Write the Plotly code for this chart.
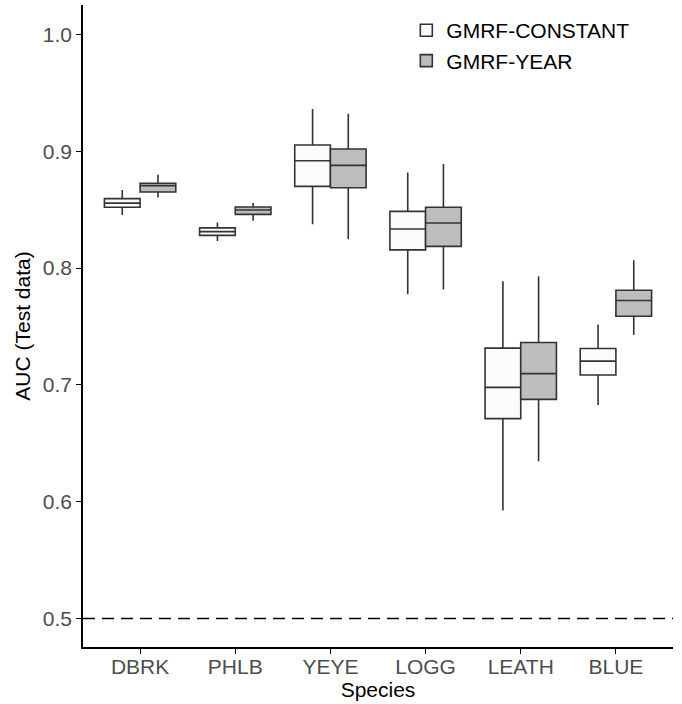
import plotly.graph_objects as go

# Species on the x axis
species = ["DBRK", "PHLB", "YEYE", "LOGG", "LEATH", "BLUE"]

# Box statistics of test-data AUC, GMRF-CONSTANT model
const_lower = [0.8455, 0.8232, 0.8374, 0.7776, 0.5925, 0.6827]
const_q1 = [0.8520, 0.8280, 0.8699, 0.8156, 0.6711, 0.7084]
const_median = [0.8556, 0.8312, 0.8919, 0.8335, 0.6979, 0.7203]
const_q3 = [0.8594, 0.8344, 0.9053, 0.8485, 0.7315, 0.7312]
const_upper = [0.8668, 0.8389, 0.9361, 0.8819, 0.7887, 0.7517]

# Box statistics of test-data AUC, GMRF-YEAR model
year_lower = [0.8603, 0.8406, 0.8246, 0.7816, 0.6346, 0.7426]
year_q1 = [0.8651, 0.8460, 0.8688, 0.8186, 0.6876, 0.7588]
year_median = [0.8705, 0.8497, 0.8879, 0.8386, 0.7096, 0.7722]
year_q3 = [0.8725, 0.8523, 0.9019, 0.8520, 0.7363, 0.7810]
year_upper = [0.8799, 0.8557, 0.9320, 0.8891, 0.7930, 0.8067]

y_ticks = [0.5, 0.6, 0.7, 0.8, 0.9, 1.0]
reference_auc = 0.5

LINE = "#333333"
FONT = "Liberation Sans, Arial, sans-serif"

fig = go.Figure()
fig.add_trace(go.Box(
    name="GMRF-CONSTANT", x=species,
    q1=const_q1, median=const_median, q3=const_q3,
    lowerfence=const_lower, upperfence=const_upper,
    fillcolor="#fbfbfb", line=dict(color=LINE, width=1.6),
    whiskerwidth=0, boxpoints=False,
))
fig.add_trace(go.Box(
    name="GMRF-YEAR", x=species,
    q1=year_q1, median=year_median, q3=year_q3,
    lowerfence=year_lower, upperfence=year_upper,
    fillcolor="#bdbdbd", line=dict(color=LINE, width=1.6),
    whiskerwidth=0, boxpoints=False,
))

# dashed reference line at AUC = 0.5
fig.add_shape(type="line", xref="paper", x0=0, x1=1, yref="y",
              y0=reference_auc, y1=reference_auc,
              line=dict(color="black", width=1.6, dash="12px,7px"))

fig.update_layout(
    width=682, height=704,
    margin=dict(l=83, r=9, t=5, b=57),
    paper_bgcolor="white", plot_bgcolor="white",
    boxmode="group", boxgap=0.25, boxgroupgap=0,
    font=dict(family=FONT, color="black"),
    showlegend=True,
    legend=dict(x=0.548, y=0.992, xanchor="left", yanchor="top",
                bgcolor="rgba(0,0,0,0)", font=dict(size=21, color="black"),
                itemwidth=30, tracegroupgap=0),
    xaxis=dict(
        type="category", range=[-0.6, 5.6],
        showline=True, linecolor="black", linewidth=1.5,
        ticks="outside", ticklen=5, tickcolor="black", tickwidth=1,
        tickfont=dict(size=21, color="#4d4d4d"), ticklabelstandoff=-5,
        showgrid=False, zeroline=False,
        title=dict(text="Species", font=dict(size=21, color="black"), standoff=2),
    ),
    yaxis=dict(
        range=[0.4756, 1.0252],
        tickvals=y_ticks, ticktext=[f"{v:.1f}" for v in y_ticks],
        showline=True, linecolor="black", linewidth=1.5,
        ticks="outside", ticklen=5, tickcolor="black", tickwidth=1,
        tickfont=dict(size=21, color="#4d4d4d"),
        showgrid=False, zeroline=False,
        title=dict(text="AUC (Test data)", font=dict(size=21, color="black"), standoff=6),
    ),
)

fig.write_html("out.html")
